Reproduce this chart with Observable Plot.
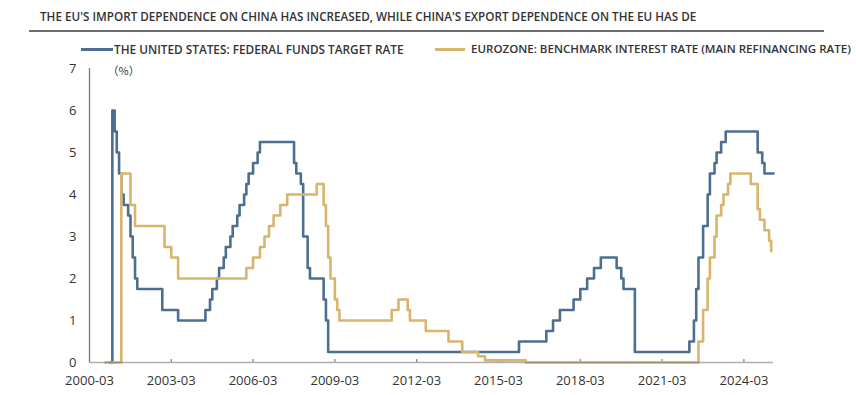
<!DOCTYPE html>
<html><head><meta charset="utf-8">
<script src="https://cdn.jsdelivr.net/npm/d3@7"></script>
<script src="https://cdn.jsdelivr.net/npm/@observablehq/plot@0.6"></script>
<style>
body{margin:0;background:#fff;font-family:"Open Sans",sans-serif;}
#wrap{width:856px;height:395px;position:relative;overflow:hidden;background:#fff}
#head{position:relative;height:56px}
#title{position:absolute;left:40px;top:8px;white-space:nowrap;font-size:11.7px;line-height:16px;font-weight:600;color:#333}
#rule{position:absolute;left:29px;top:30px;width:795px;height:2px;background:#6e6e6e}
.leg{position:absolute;top:42px;line-height:14px;font-weight:600;color:#333;white-space:nowrap;display:flex;align-items:center}
.sw{display:inline-block;height:3px}
#chart svg{display:block}
</style></head>
<body>
<div id="wrap">
  <div id="head">
    <div id="title"></div>
    <div id="rule"></div>
    <div class="leg" id="leg1"></div>
    <div class="leg" id="leg2"></div>
  </div>
  <div id="chart"></div>
</div>
<script>
// Title (as visible in the reference) and series names / colours
const titleText = "THE EU'S IMPORT DEPENDENCE ON CHINA HAS INCREASED, WHILE CHINA'S EXPORT DEPENDENCE ON THE EU HAS DE";
const seriesNames = ["THE UNITED STATES: FEDERAL FUNDS TARGET RATE", "EUROZONE: BENCHMARK INTEREST RATE (MAIN REFINANCING RATE)"];
const seriesColors = ["#4d6f8f", "#d8b56c"];

// US Fed funds target rate: month where the plotted level changes, and the level (%)
const fedMonths = ["2000-12","2001-01","2001-02","2001-03","2001-04","2001-05","2001-06","2001-08","2001-09","2001-10","2001-11","2001-12",
  "2002-11","2003-06","2004-06","2004-08","2004-09","2004-11","2004-12","2005-02","2005-03","2005-05","2005-06","2005-08","2005-09",
  "2005-11","2005-12","2006-01","2006-03","2006-05","2006-06","2007-09","2007-10","2007-12","2008-01","2008-03","2008-04","2008-10",
  "2008-11","2008-12","2015-12","2016-12","2017-03","2017-06","2017-12","2018-03","2018-06","2018-09","2018-12","2019-07","2019-09",
  "2019-10","2020-03","2022-03","2022-05","2022-06","2022-07","2022-09","2022-11","2022-12","2023-02","2023-03","2023-05","2023-07",
  "2024-09","2024-11","2024-12","2025-04"];
const fedRates = [0,6.0,5.5,5.0,4.5,4.0,3.75,3.5,3.0,2.5,2.0,1.75,
  1.25,1.0,1.25,1.5,1.75,2.0,2.25,2.5,2.75,3.0,3.25,3.5,3.75,
  4.0,4.25,4.5,4.75,5.0,5.25,4.75,4.5,4.25,3.0,2.25,2.0,1.5,
  1.0,0.25,0.5,0.75,1.0,1.25,1.5,1.75,2.0,2.25,2.5,2.25,2.0,
  1.75,0.25,0.5,1.0,1.75,2.5,3.25,4.0,4.5,4.75,5.0,5.25,5.5,
  5.0,4.75,4.5,4.5];

// Eurozone main refinancing rate
const ecbMonths = ["2000-10","2001-05","2001-09","2001-11","2002-12","2003-03","2003-06","2005-12","2006-03","2006-06","2006-08",
  "2006-10","2006-12","2007-03","2007-06","2008-07","2008-10","2008-11","2008-12","2009-01","2009-03","2009-04","2009-05",
  "2011-04","2011-07","2011-11","2011-12","2012-07","2013-05","2013-11","2014-06","2014-09","2016-03","2022-07","2022-09",
  "2022-11","2022-12","2023-02","2023-03","2023-05","2023-06","2023-08","2023-09","2024-06","2024-09","2024-10","2024-12",
  "2025-02","2025-03"];
const ecbRates = [0,4.5,3.75,3.25,2.75,2.5,2.0,2.25,2.5,2.75,3.0,
  3.25,3.5,3.75,4.0,4.25,3.75,3.25,2.5,2.0,1.5,1.25,1.0,
  1.25,1.5,1.25,1.0,0.75,0.5,0.25,0.15,0.05,0.0,0.5,1.25,
  2.0,2.5,3.0,3.5,3.75,4.0,4.25,4.5,4.25,3.65,3.4,3.15,
  2.9,2.65];

// Axis ticks
const xTickLabels = ["2000-03","2003-03","2006-03","2009-03","2012-03","2015-03","2018-03","2021-03","2024-03"];
const yTicks = [0,1,2,3,4,5,6,7];
const xStart = "2000-03", xEnd = "2025-04";
const unitLabel = "（%）";

const parse = d3.utcParse("%Y-%m");
const fed = fedMonths.map((m, i) => ({date: parse(m), rate: fedRates[i]}));
const ecb = ecbMonths.map((m, i) => ({date: parse(m), rate: ecbRates[i]}));
const xDomain = [parse(xStart), parse(xEnd)];

document.getElementById("title").textContent = titleText;

// Legend
[["leg1", 81, 32, 1, 11.8], ["leg2", 435, 30, 6, 11.55]].forEach(([id, left, w, gap, fs], i) => {
  const el = document.getElementById(id);
  el.style.left = left + "px";
  el.style.fontSize = fs + "px";
  el.innerHTML = `<span class="sw" style="width:${w}px;margin-right:${gap}px;background:${seriesColors[i]}"></span><span>${seriesNames[i]}</span>`;
});

const chart = Plot.plot({
  width: 856, height: 339,
  marginTop: 12, marginBottom: 33, marginLeft: 89, marginRight: 83,
  style: {fontFamily: "Open Sans, sans-serif", fontSize: "13px", color: "#333", background: "#fff"},
  x: {type: "utc", domain: xDomain},
  y: {domain: [0, 7]},
  marks: [
    Plot.axisY({ticks: yTicks, tickSize: 0, tickPadding: 13, label: null, tickFormat: d3.format("d")}),
    Plot.axisX({ticks: xTickLabels.map(parse), tickFormat: d3.utcFormat("%Y-%m"), tickSize: -3, tickPadding: 16, label: null, stroke: "#666"}),
    Plot.ruleX([xDomain[0]], {stroke: "#7a7a7a", strokeWidth: 1.3}),
    Plot.line(fed, {x: "date", y: "rate", curve: "step-after", stroke: seriesColors[0], strokeWidth: 2.6}),
    Plot.line(ecb, {x: "date", y: "rate", curve: "step-after", stroke: seriesColors[1], strokeWidth: 2.6}),
    Plot.ruleY([0], {stroke: "#7a7a7a", strokeWidth: 1.3, strokeOpacity: 0.6}),
    Plot.text([unitLabel], {frameAnchor: "top-left", dx: 18, dy: 3, lineAnchor: "middle", fontSize: 11, fontFamily: "Noto Sans CJK SC", fill: "#333"})
  ]
});
document.getElementById("chart").appendChild(chart);
</script>
</body></html>
